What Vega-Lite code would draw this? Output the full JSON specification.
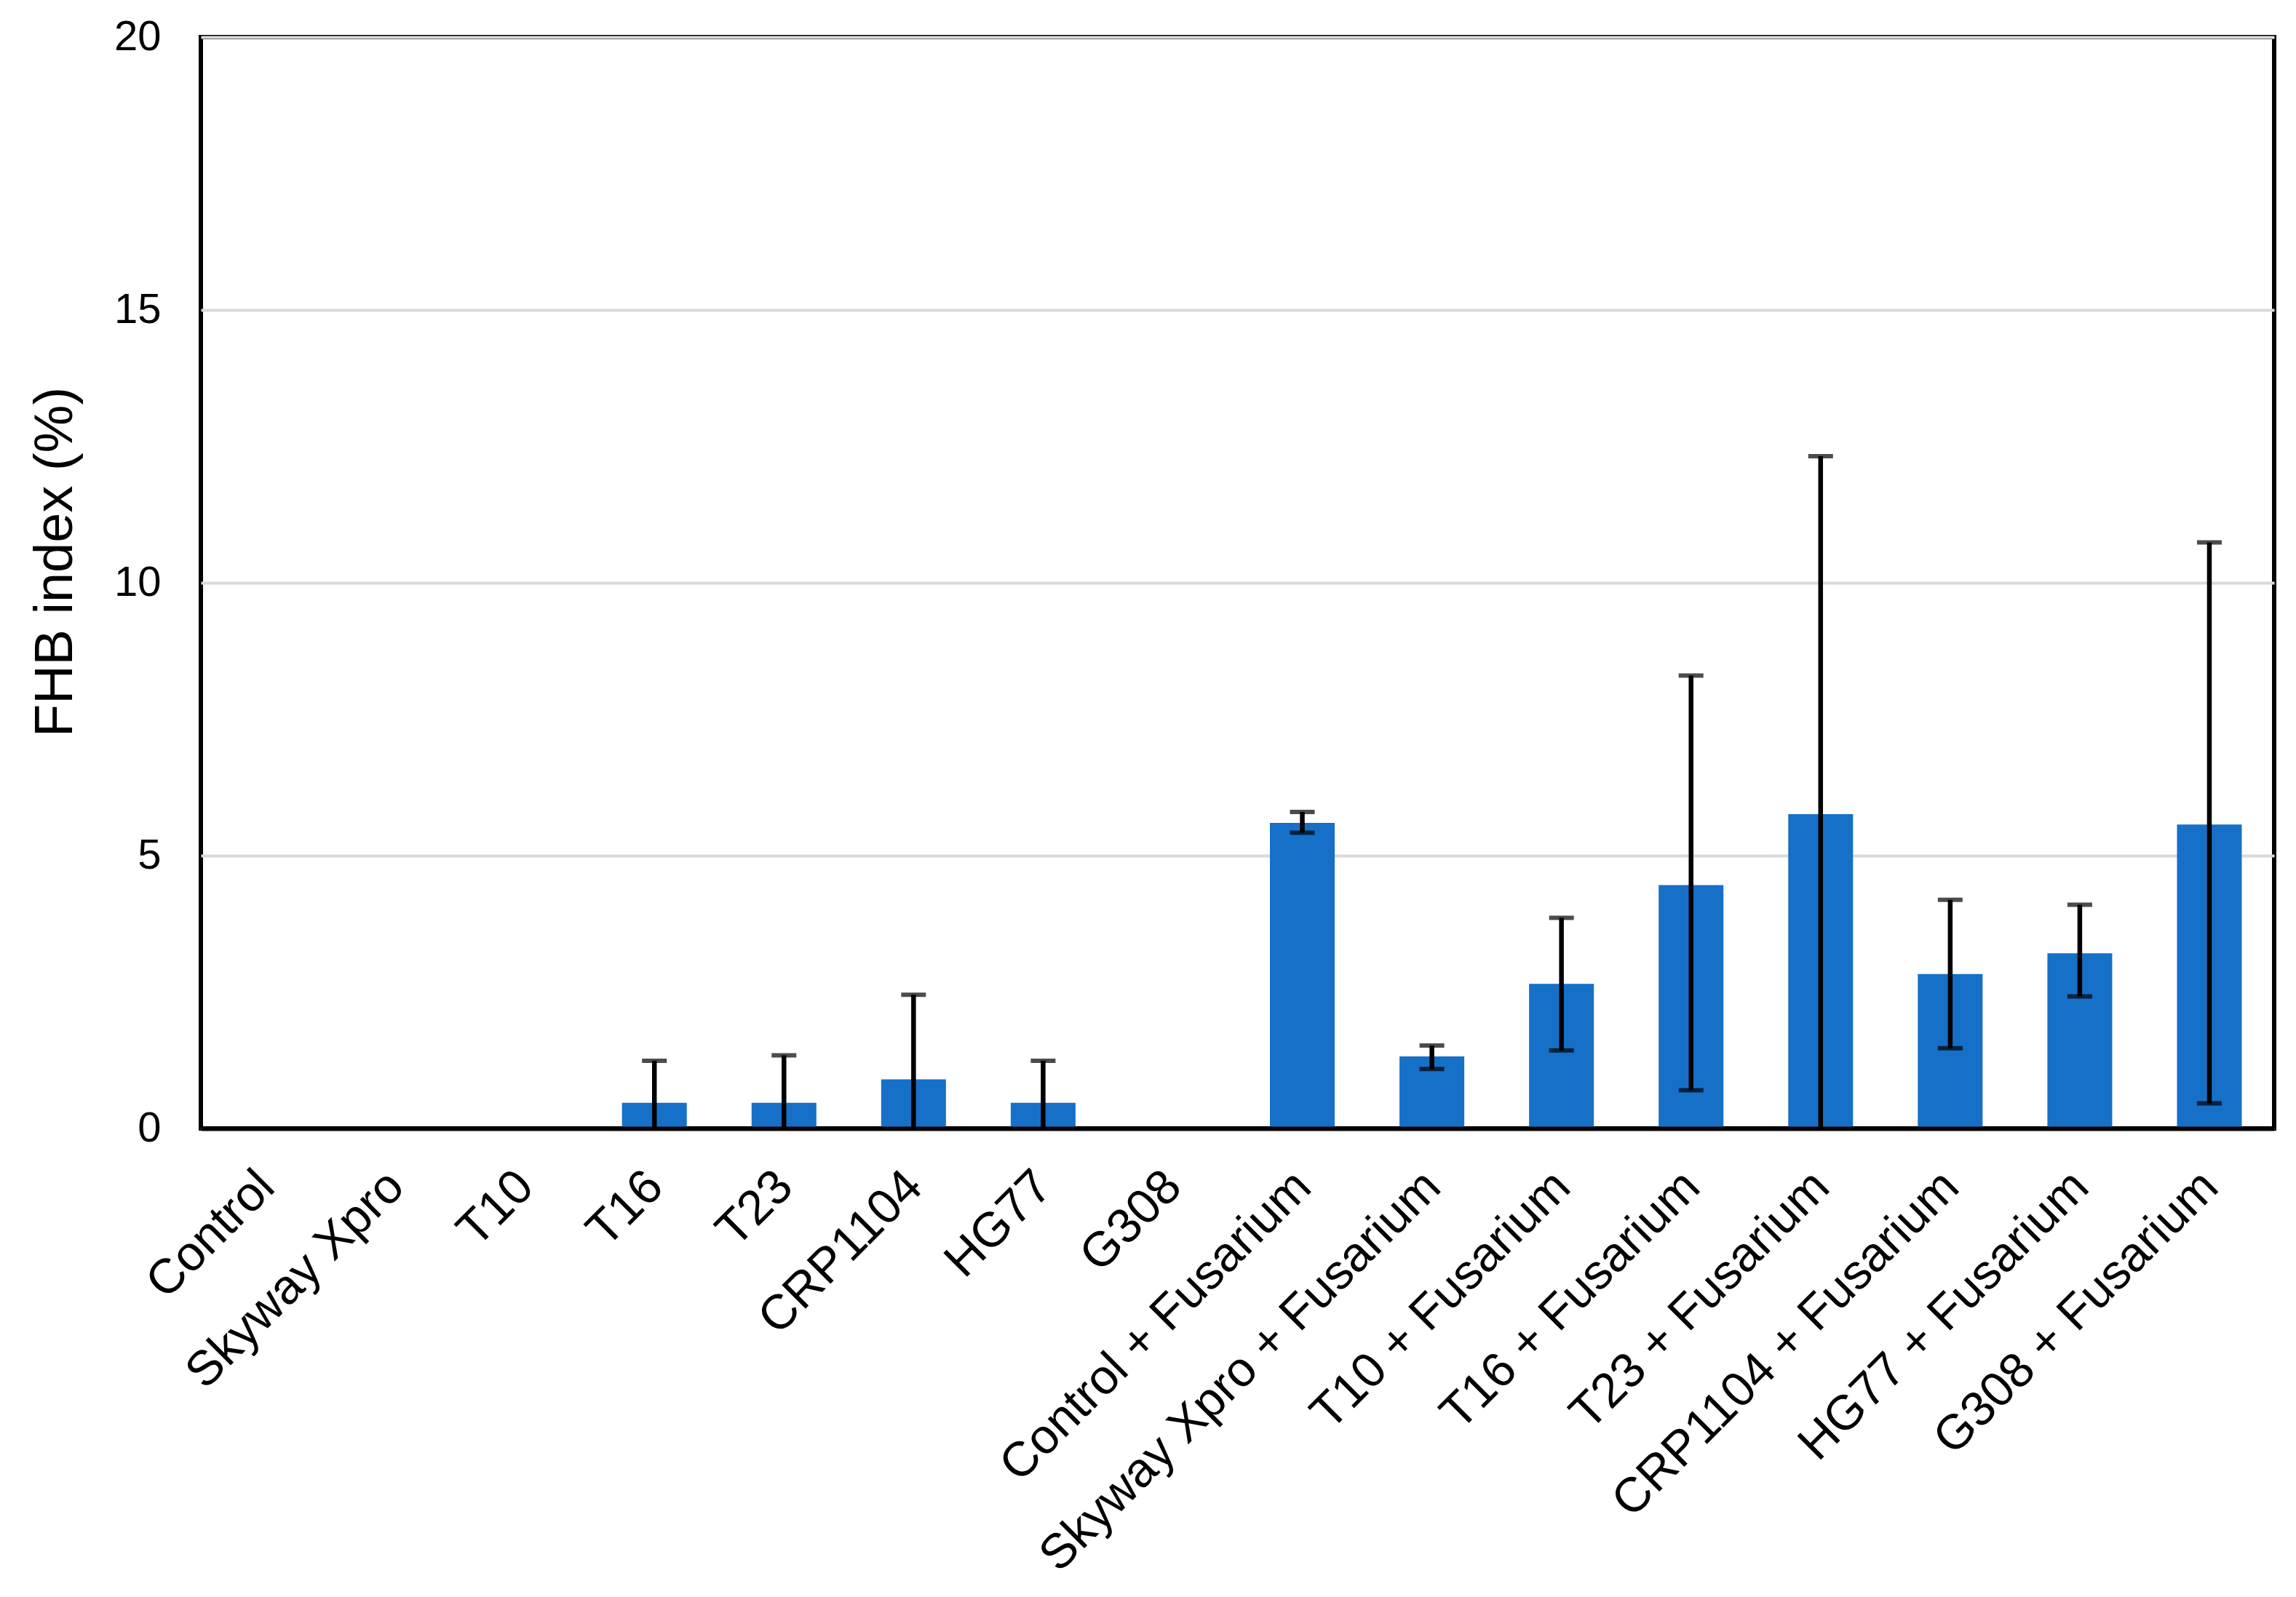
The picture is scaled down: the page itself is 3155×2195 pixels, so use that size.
{
  "$schema": "https://vega.github.io/schema/vega-lite/v6.json",
  "width": 2849,
  "height": 1500,
  "autosize": {"type": "none"},
  "padding": {"left": 276, "top": 51, "right": 30, "bottom": 644},
  "background": "white",
  "config": {"view": {"stroke": "black", "strokeWidth": 6}, "font": "Liberation Sans"},
  "data": {
    "values": [
      {"treatment": "Control", "mean": 0, "lo": null, "hi": null},
      {"treatment": "Skyway Xpro", "mean": 0, "lo": null, "hi": null},
      {"treatment": "T10", "mean": 0, "lo": null, "hi": null},
      {"treatment": "T16", "mean": 0.47, "lo": -0.30, "hi": 1.24},
      {"treatment": "T23", "mean": 0.47, "lo": -0.40, "hi": 1.34},
      {"treatment": "CRP1104", "mean": 0.90, "lo": -0.65, "hi": 2.45},
      {"treatment": "HG77", "mean": 0.47, "lo": -0.30, "hi": 1.24},
      {"treatment": "G308", "mean": 0, "lo": null, "hi": null},
      {"treatment": "Control + Fusarium", "mean": 5.60, "lo": 5.42, "hi": 5.80},
      {"treatment": "Skyway Xpro + Fusarium", "mean": 1.32, "lo": 1.09, "hi": 1.52},
      {"treatment": "T10 + Fusarium", "mean": 2.65, "lo": 1.43, "hi": 3.86},
      {"treatment": "T16 + Fusarium", "mean": 4.46, "lo": 0.70, "hi": 8.30},
      {"treatment": "T23 + Fusarium", "mean": 5.76, "lo": -0.80, "hi": 12.32},
      {"treatment": "CRP1104 + Fusarium", "mean": 2.83, "lo": 1.47, "hi": 4.19},
      {"treatment": "HG77 + Fusarium", "mean": 3.21, "lo": 2.42, "hi": 4.10},
      {"treatment": "G308 + Fusarium", "mean": 5.57, "lo": 0.46, "hi": 10.74}
    ]
  },
  "encoding": {
    "x": {
      "field": "treatment",
      "type": "nominal",
      "sort": null,
      "scale": {"paddingInner": 0.5, "paddingOuter": 0.25},
      "axis": {
        "title": null,
        "labelAngle": -45,
        "labelAlign": "right",
        "labelBaseline": "top",
        "labelFontSize": 67,
        "labelColor": "black",
        "labelPadding": 46,
        "labelOffset": -22,
        "labelLimit": 0,
        "labelOverlap": false,
        "ticks": false,
        "tickSize": 0,
        "domain": true,
        "domainColor": "black",
        "domainWidth": 6,
        "zindex": 1
      }
    }
  },
  "layer": [
    {
      "mark": {"type": "bar", "color": "#1670C8"},
      "encoding": {
        "y": {
          "field": "mean",
          "type": "quantitative",
          "scale": {"domain": [0, 20], "nice": false},
          "axis": {
            "title": "FHB index (%)",
            "titleFontSize": 74,
            "titleFontWeight": "normal",
            "titleColor": "black",
            "titleX": -200,
            "titleY": 721,
            "titleAngle": -90,
            "titleAlign": "center",
            "titleBaseline": "middle",
            "values": [0, 5, 10, 15, 20],
            "format": "d",
            "labelFontSize": 58,
            "labelColor": "black",
            "labelPadding": 55,
            "ticks": false,
            "tickSize": 0,
            "domain": false,
            "grid": true,
            "gridColor": "#D9D9D9",
            "gridWidth": 4
          }
        }
      }
    },
    {
      "mark": {"type": "rule", "strokeWidth": 6.5, "color": "black", "clip": true},
      "encoding": {
        "y": {"field": "lo", "type": "quantitative"},
        "y2": {"field": "hi"}
      }
    },
    {
      "mark": {"type": "tick", "orient": "horizontal", "size": 34, "thickness": 6, "color": "black", "clip": true},
      "encoding": {"y": {"field": "hi", "type": "quantitative"}}
    },
    {
      "mark": {"type": "tick", "orient": "horizontal", "size": 34, "thickness": 6, "color": "black", "clip": true},
      "encoding": {"y": {"field": "lo", "type": "quantitative"}}
    }
  ]
}
